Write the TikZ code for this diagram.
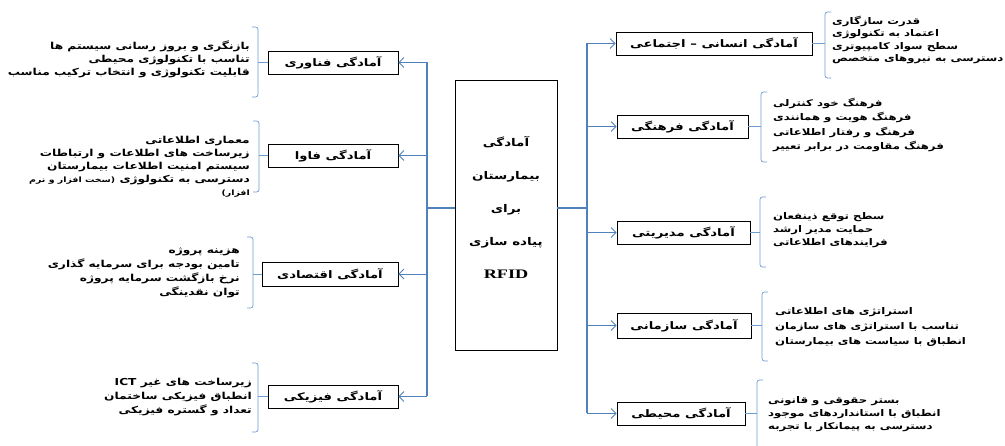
\documentclass[tikz,border=0pt]{standalone}
\usepackage{fontspec}
\setmainfont{Liberation Serif}
\newfontfamily\farsi[Script=Arabic, FakeStretch=1.27]{DejaVu Sans}
\newfontfamily\rfidfont[FakeStretch=1.4]{Liberation Serif}
\TeXXeTstate=1
\usetikzlibrary{arrows.meta}
\definecolor{conn}{RGB}{79,129,189}
\definecolor{brcol}{RGB}{110,155,210}
\newcommand\rl[1]{\beginR #1\endR}
\newcommand\leftbr[4]{%
  \coordinate (#1br) at (#2,#3);
  \draw[brc] (#2-6,#3) -- (#2,#3) -- (#2,#4) -- (#2-6,#4);
  \draw[brc] (#1.west) -- (#1.west -| #1br);}
\newcommand\rightbr[4]{%
  \coordinate (#1br) at (#2,#3);
  \draw[brc] (#2+6,#3) -- (#2,#3) -- (#2,#4) -- (#2+6,#4);
  \draw[brc] (#1.east) -- (#1.east -| #1br);}
\begin{document}
\begin{tikzpicture}[x=1pt,y=-1pt,
  lab/.style={draw=black, line width=0.8pt, fill=white, inner sep=0pt,
    font=\farsi\bfseries\fontsize{10.4}{11}\selectfont, minimum height=23pt},
  lt/.style={anchor=east, align=right, inner sep=0pt,
    font=\farsi\bfseries\fontsize{9.6}{13}\selectfont},
  rt/.style={anchor=west, align=left, inner sep=0pt,
    font=\farsi\bfseries\fontsize{9.2}{12}\selectfont},
  trunk/.style={draw=conn, line width=1.3pt},
  arr/.style={draw=conn, line width=0.8pt, -{Straight Barb[length=5pt,width=10pt]}},
  brc/.style={draw=brcol, line width=0.7pt, rounded corners=2.5pt}]
\useasboundingbox (0,0) rectangle (1005,446);

% hub
\node[draw=black, line width=0.8pt, minimum width=102pt, minimum height=270pt, inner sep=0pt] (hub) at (506,215) {};
\node[align=center, font=\farsi\bfseries\fontsize{10.6}{33}\selectfont] (hubtext) at (506,207)
  {\rl{آمادگی}\\\rl{بیمارستان}\\\rl{برای}\\\rl{پیاده سازی}\\{\rfidfont\bfseries\fontsize{13}{33}\selectfont RFID}};

% left boxes
\node[lab, minimum width=130pt] (b1) at (333,62.5) {\rl{آمادگی فناوری}};
\node[lab, minimum width=130pt] (b2) at (333,155.5) {\rl{آمادگی فاوا}};
\node[lab, minimum width=136pt, minimum height=24pt] (b3) at (330,274) {\rl{آمادگی اقتصادی}};
\node[lab, minimum width=130pt] (b4) at (333,396.5) {\rl{آمادگی فیزیکی}};

% right boxes
\node[lab, minimum width=196pt] (r1) at (714,43.5) {\rl{آمادگی انسانی – اجتماعی}};
\node[lab, minimum width=131pt] (r2) at (682.5,126.5) {\rl{آمادگی فرهنگی}};
\node[lab, minimum width=133pt] (r3) at (683.5,232.5) {\rl{آمادگی مدیریتی}};
\node[lab, minimum width=134pt, minimum height=25pt] (r4) at (684,325.5) {\rl{آمادگی سازمانی}};
\node[lab, minimum width=128pt] (r5) at (681,413.5) {\rl{آمادگی محیطی}};

% connectors
\coordinate (lj) at (427,208);
\coordinate (rj) at (587,208);
\draw[trunk, line width=1.8pt] (hub.west |- lj) -- (lj);
\draw[trunk, line width=1.8pt] (hub.east |- rj) -- (rj);
\draw[trunk] (lj |- b1.east) -- (lj |- b4.east);
\draw[trunk] (rj |- r1.west) -- (rj |- r5.west);
\foreach \n in {b1,b2,b3,b4} \draw[arr] (lj |- \n.east) -- (\n.east);
\foreach \n in {r1,r2,r3,r4,r5} \draw[arr] (rj |- \n.west) -- (\n.west);

% braces
\leftbr{b1}{258}{27}{97}
\leftbr{b2}{259}{121}{192}
\leftbr{b3}{253}{237}{308}
\leftbr{b4}{258}{363}{432}
\rightbr{r1}{825}{12}{78}
\rightbr{r2}{761}{92}{162}
\rightbr{r3}{760}{197}{267}
\rightbr{r4}{762}{292}{361}
\rightbr{r5}{757}{380}{450}

% left texts
\node[lt] (t1) at (250,59) {\rl{بازنگری و بروز رسانی سیستم ها}\\\rl{تناسب با تکنولوژی محیطی}\\\rl{قابلیت تکنولوژی و انتخاب ترکیب مناسب}};
\node[lt] (t2) at (250,167) {\rl{معماری اطلاعاتی}\\\rl{زیرساخت های اطلاعات و ارتباطات}\\\rl{سیستم امنیت اطلاعات بیمارستان}\\\rl{دسترسی به تکنولوژی {\fontsize{7.4}{13.5}\selectfont (سخت افزار و نرم}}\\{\fontsize{7.4}{13.5}\selectfont\rl{افزار)}}};
\node[lt, font=\farsi\bfseries\fontsize{9.6}{14}\selectfont] (t3) at (240,273) {\rl{هزینه پروژه}\\\rl{تامین بودجه برای سرمایه گذاری}\\\rl{نرخ بازگشت سرمایه پروژه}\\\rl{توان نقدینگی}};
\node[lt, font=\farsi\bfseries\fontsize{9.6}{14}\selectfont] (t4) at (252,397) {\rl{زیرساخت های غیر \beginL ICT\endL{}}\\\rl{انطباق فیزیکی ساختمان}\\\rl{تعداد و گستره فیزیکی}};

% right texts
\node[rt, font=\farsi\bfseries\fontsize{9.2}{12.5}\selectfont] (s1) at (832,40) {\rl{قدرت سازگاری}\\\rl{اعتماد به تکنولوژی}\\\rl{سطح سواد کامپیوتری}\\\rl{دسترسی به نیروهای متخصص}};
\node[rt, font=\farsi\bfseries\fontsize{9.2}{14.5}\selectfont] (s2) at (773,125) {\rl{فرهنگ خود کنترلی}\\\rl{فرهنگ هویت و همانندی}\\\rl{فرهنگ و رفتار اطلاعاتی}\\\rl{فرهنگ مقاومت در برابر تعییر}};
\node[rt, font=\farsi\bfseries\fontsize{9.2}{13}\selectfont] (s3) at (773,230) {\rl{سطح توقع ذینفعان}\\\rl{حمایت مدیر ارشد}\\\rl{فرایندهای اطلاعاتی}};
\node[rt, font=\farsi\bfseries\fontsize{9.2}{15}\selectfont] (s4) at (775,327) {\rl{استراتژی های اطلاعاتی}\\\rl{تناسب با استراتژی های سازمان}\\\rl{انطباق با سیاست های بیمارستان}};
\node[rt, font=\farsi\bfseries\fontsize{9.2}{13}\selectfont] (s5) at (768,414) {\rl{بستر حقوقی و قانونی}\\\rl{انطباق با استانداردهای موجود}\\\rl{دسترسی به پیمانکار با تجربه}};
\end{tikzpicture}
\end{document}
